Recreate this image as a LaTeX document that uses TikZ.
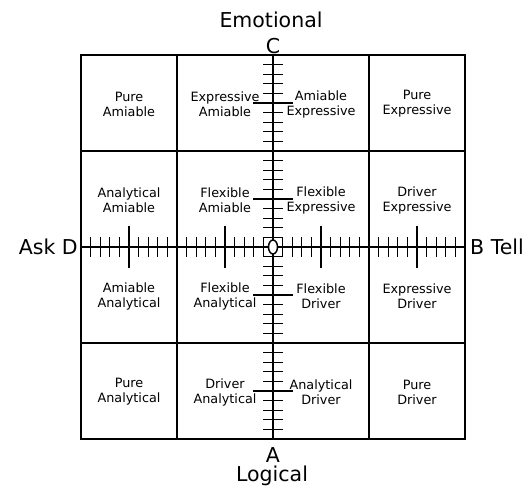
\documentclass[tikz,border=0pt]{standalone}
\usepackage{fontspec}
\setmainfont{DejaVu Sans}
\begin{document}
\begin{tikzpicture}[x=1pt,y=-1pt,
  celltext/.style={align=center, font=\fontsize{12.8}{15}\selectfont, inner sep=0pt},
  bigtext/.style={font=\fontsize{20.5}{25}\selectfont, inner sep=0pt},
  gridline/.style={line width=2.5pt},
  minortick/.style={line width=1.3pt},
  majortick/.style={line width=2.5pt}]
\useasboundingbox (0,0) rectangle (530,488);
% grid
\draw[gridline] (81,55) rectangle (465,439);
\foreach \x in {177,369} \draw[gridline] (\x,55) -- (\x,439);
\foreach \y in {151,343} \draw[gridline] (81,\y) -- (465,\y);
% axes
\draw[gridline] (273,55) -- (273,439);
\draw[gridline] (81,247) -- (465,247);
% ticks
\foreach \i in {-19,...,19}{
  \pgfmathtruncatemacro{\m}{mod(abs(\i),10)}
  \ifnum\m=0\relax\else
    \ifnum\m=5\relax
      \draw[majortick] (253,{247+\i*9.6}) -- (293,{247+\i*9.6});
      \draw[majortick] ({273+\i*9.6},226) -- ({273+\i*9.6},268);
    \else
      \draw[minortick] (263,{247+\i*9.6}) -- (283,{247+\i*9.6});
      \draw[minortick] ({273+\i*9.6},237) -- ({273+\i*9.6},257);
    \fi
  \fi
}
% centre mark
\draw[line width=1.5pt, fill=white] (273,247) ellipse [x radius=4.5, y radius=7];
% axis labels
\node[bigtext, anchor=base] (emo) at (271,27) {Emotional};
\node[bigtext, anchor=base] (C) at (273,53) {C};
\node[bigtext, anchor=base] (A) at (273,462) {A};
\node[bigtext, anchor=base] (log) at (272,481) {Logical};
\node[bigtext, anchor=base east] (D) at (78,254) {Ask D};
\node[bigtext, anchor=base west] (B) at (470,254) {B Tell};
% cells
\node[celltext] (c11) at (129,104) {Pure\\Amiable};
\node[celltext] (c12) at (225,104) {Expressive\\Amiable};
\node[celltext] (c13) at (321,104) {Amiable\\Expressive};
\node[celltext] (c14) at (417,104) {Pure\\Expressive};
\node[celltext] (c21) at (129,200) {Analytical\\Amiable};
\node[celltext] (c22) at (225,200) {Flexible\\Amiable};
\node[celltext] (c23) at (321,200) {Flexible\\Expressive};
\node[celltext] (c24) at (417,200) {Driver\\Expressive};
\node[celltext] (c31) at (129,296) {Amiable\\Analytical};
\node[celltext] (c32) at (225,296) {Flexible\\Analytical};
\node[celltext] (c33) at (321,296) {Flexible\\Driver};
\node[celltext] (c34) at (417,296) {Expressive\\Driver};
\node[celltext] (c41) at (129,392) {Pure\\Analytical};
\node[celltext] (c42) at (225,392) {Driver\\Analytical};
\node[celltext] (c43) at (321,392) {Analytical\\Driver};
\node[celltext] (c44) at (417,392) {Pure\\Driver};
\end{tikzpicture}
\end{document}
